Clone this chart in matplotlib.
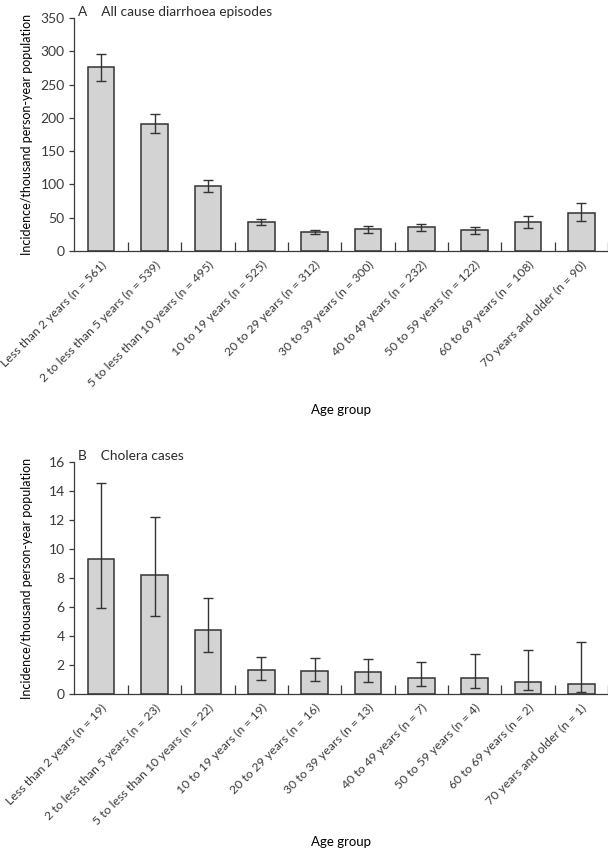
import matplotlib
matplotlib.use("Agg")
import matplotlib.pyplot as plt
import numpy as np

plt.rcParams.update({
    "font.family": ["Lato", "DejaVu Sans"],
    "font.size": 9,
    "axes.linewidth": 0.9,
    "axes.edgecolor": "#3a3a3a",
    "text.color": "#2a2a2a",
    "xtick.color": "#3a3a3a",
    "ytick.color": "#3a3a3a",
})

# === Data ===
groups = [
    "Less than 2 years", "2 to less than 5 years", "5 to less than 10 years",
    "10 to 19 years", "20 to 29 years", "30 to 39 years", "40 to 49 years",
    "50 to 59 years", "60 to 69 years", "70 years and older",
]
n_diarrhoea = [561, 539, 495, 525, 312, 300, 232, 122, 108, 90]
inc_diarrhoea = [276, 191, 98, 43, 29, 32.5, 36, 31.5, 43, 57.5]
lo_diarrhoea = [256, 177, 88, 38.6, 26, 26.5, 29.5, 25, 35, 45.5]
hi_diarrhoea = [296, 206, 107, 47.6, 32, 37, 40.5, 36.5, 53, 72.5]

n_cholera = [19, 23, 22, 19, 16, 13, 7, 4, 2, 1]
inc_cholera = [9.3, 8.2, 4.4, 1.65, 1.58, 1.5, 1.1, 1.12, 0.85, 0.67]
lo_cholera = [5.95, 5.35, 2.9, 1.0, 0.92, 0.85, 0.57, 0.44, 0.25, 0.12]
hi_cholera = [14.55, 12.2, 6.65, 2.53, 2.46, 2.44, 2.23, 2.78, 3.01, 3.6]

BAR_FACE = "#d3d3d3"
DARK = "#333333"

fig = plt.figure(figsize=(6.08, 8.52), dpi=100)
ax_a = fig.add_axes([0.1225, 0.7054, 0.8775, 0.2735])
ax_b = fig.add_axes([0.1225, 0.1854, 0.8775, 0.2723])


def draw_panel(ax, vals, lo, hi, ns, ymax, ystep, title, xlab_y):
    x = np.arange(len(vals))
    vals = np.array(vals)
    yerr = [vals - np.array(lo), np.array(hi) - vals]
    ax.bar(x, vals, width=0.5, color=BAR_FACE, edgecolor=DARK, linewidth=1.1, zorder=2)
    ax.errorbar(x, vals, yerr=yerr, fmt="none", ecolor=DARK, elinewidth=1.0,
                capsize=3.5, capthick=1.0, zorder=3)
    ax.set_xlim(-0.5, len(vals) - 0.5)
    ax.set_ylim(0, ymax)
    ax.set_yticks(np.arange(0, ymax + ystep / 2, ystep))
    ax.set_xticks(x)
    ax.set_xticklabels([f"{g} (n = {n})" for g, n in zip(groups, ns)],
                       rotation=45, ha="right", rotation_mode="anchor", fontsize=8.8)
    ax.set_xticks(x + 0.5, minor=True)
    ax.tick_params(axis="x", which="major", length=0, pad=6)
    ax.tick_params(axis="x", which="minor", direction="in", length=6.5, width=0.9)
    ax.tick_params(axis="y", length=3.5, width=0.9, labelsize=10)
    for s in ("top", "right"):
        ax.spines[s].set_visible(False)
    ax.set_ylabel("Incidence/thousand person-year population", fontsize=9)
    ax.yaxis.set_label_coords(-0.078, 0.5)
    ax.set_xlabel("Age group", fontsize=9.5)
    ax.xaxis.set_label_coords(0.5, xlab_y)
    ax.text(0.006, 1.0, title, transform=ax.transAxes, fontsize=9.8,
            ha="left", va="bottom")


draw_panel(ax_a, inc_diarrhoea, lo_diarrhoea, hi_diarrhoea, n_diarrhoea, 350, 50,
           "A    All cause diarrhoea episodes", -0.655)
draw_panel(ax_b, inc_cholera, lo_cholera, hi_cholera, n_cholera, 16, 2,
           "B    Cholera cases", -0.612)

fig.savefig("out.png", dpi=100)
